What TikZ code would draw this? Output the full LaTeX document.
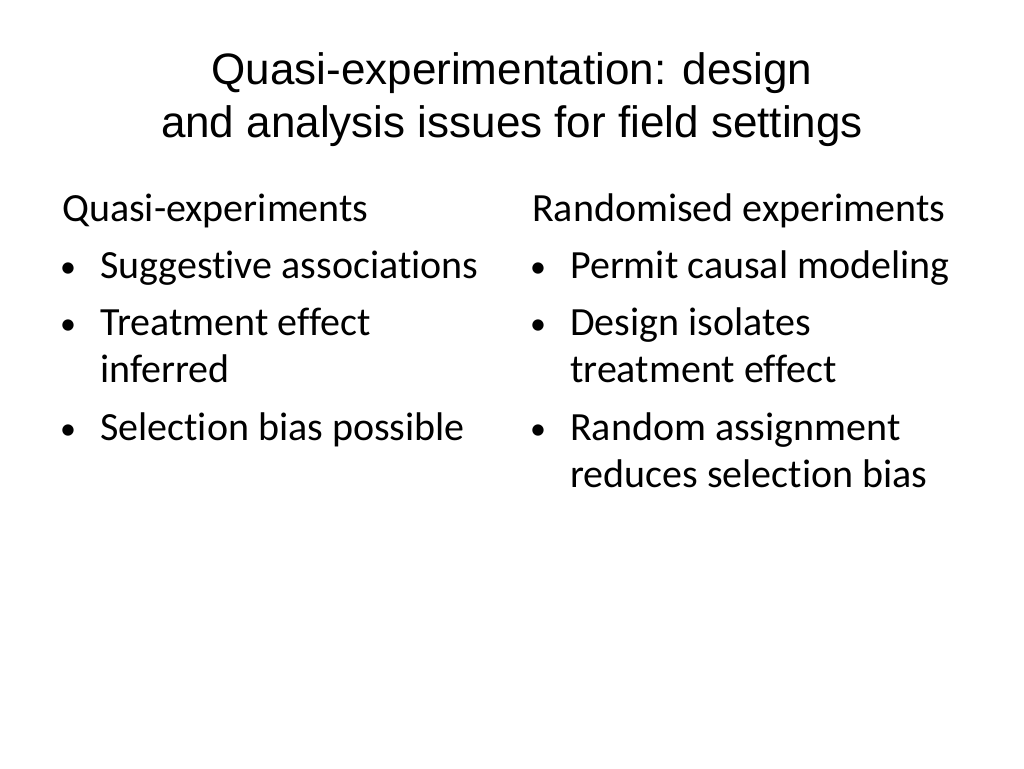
\documentclass[tikz,border=0pt]{standalone}
\usepackage{fontspec}
\setmainfont[Ligatures=NoCommon]{Carlito}
\newfontfamily\titlefont{Liberation Sans}
\usetikzlibrary{positioning}

\begin{document}
\begin{tikzpicture}[
    x=1pt, y=-1pt,
    title/.style={font=\titlefont\fontsize{44}{52}\selectfont, align=center, anchor=base},
    head/.style={font=\fontsize{40}{46}\selectfont, anchor=base west, inner sep=0pt},
    item/.style={font=\fontsize{40}{47}\selectfont, anchor=base west, inner sep=0pt, align=left},
    dot/.style={font=\fontsize{32}{38}\selectfont, anchor=base west, inner sep=0pt}
]
    \useasboundingbox (0,0) rectangle (1024,768);
    % Title
    \node[title] (ttlA) at (512,84) {Quasi-experimentation: design};
    \node[title] (ttlB) at (512,137) {and analysis issues for field settings};

    % Left column
    \node[head] (quasi) at (62,221) {Quasi-experiments};
    \node[dot] (qb1) at (60,277) {•};
    \node[item] (q1) at (100,278) {Suggestive associations};
    \node[dot] (qb2) at (60,334) {•};
    \node[item] (q2) at (100,335) {Treatment effect};
    \node[item] (q2b) at (100,382) {inferred};
    \node[dot] (qb3) at (60,439) {•};
    \node[item] (q3) at (100,440) {Selection bias possible};

    % Right column
    \node[head] (rand) at (532,221) {Randomised experiments};
    \node[dot] (rb1) at (530,277) {•};
    \node[item] (r1) at (570,278) {Permit causal modeling};
    \node[dot] (rb2) at (530,334) {•};
    \node[item] (r2) at (570,335) {Design isolates};
    \node[item] (r2b) at (570,382) {treatment effect};
    \node[dot] (rb3) at (530,439) {•};
    \node[item] (r3) at (570,440) {Random assignment};
    \node[item] (r3b) at (570,487) {reduces selection bias};
\end{tikzpicture}
\end{document}
